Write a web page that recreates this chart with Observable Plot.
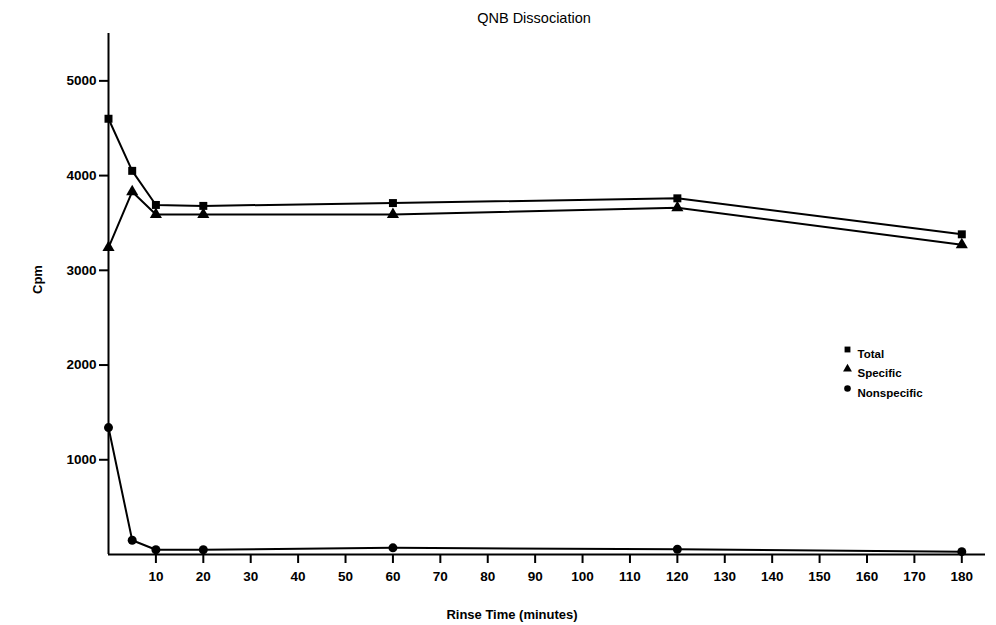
<!DOCTYPE html>
<html>
<head>
<meta charset="utf-8">
<script src="https://cdn.jsdelivr.net/npm/d3@7"></script>
<script src="https://cdn.jsdelivr.net/npm/@observablehq/plot@0.6"></script>
<style>
  html, body { margin: 0; padding: 0; background: #fff; }
  svg { font-family: "Liberation Sans", Arial, sans-serif; }
</style>
</head>
<body>
<div id="chart"></div>
<script>
const rinseTime = [0, 5, 10, 20, 60, 120, 180];
const totalCpm = [4600, 4050, 3690, 3680, 3710, 3760, 3380];
const specificCpm = [3240, 3830, 3590, 3590, 3590, 3660, 3270];
const nonspecificCpm = [1340, 150, 50, 50, 70, 55, 30];
const seriesNames = ["Total", "Specific", "Nonspecific"];
const seriesSymbols = ["square", "triangle", "circle"];
const xTicks = [10, 20, 30, 40, 50, 60, 70, 80, 90, 100, 110, 120, 130, 140, 150, 160, 170, 180];
const yTicks = [1000, 2000, 3000, 4000, 5000];

const seriesValues = [totalCpm, specificCpm, nonspecificCpm];
const data = [];
seriesNames.forEach((s, i) => {
  rinseTime.forEach((t, j) => data.push({series: s, symbol: seriesSymbols[i], time: t, cpm: seriesValues[i][j]}));
});

const legendMarks = seriesNames.flatMap((s, i) => [
  Plot.dot([s], {frameAnchor: "top-left", dx: 739, dy: 316 + i * 19.5, symbol: () => seriesSymbols[i], fill: "#000", r: 3.3}),
  Plot.text([s], {frameAnchor: "top-left", dx: 749, dy: 316 + i * 19.5, text: d => d, textAnchor: "start", fontSize: 11.5, fontWeight: "bold", letterSpacing: "0.5px", fill: "#000"})
]);

const chart = Plot.plot({
  width: 996,
  height: 625,
  marginLeft: 108,
  marginRight: 11,
  marginTop: 33,
  marginBottom: 71,
  style: {fontFamily: "'Liberation Sans', Arial, sans-serif", fontSize: "13px", fontWeight: "bold", color: "#000", background: "#fff"},
  x: {domain: [0, 185], axis: null},
  y: {domain: [0, 5500], axis: null},
  symbol: {domain: seriesSymbols, range: ["square", "triangle", "circle"]},
  marks: [
    Plot.axisX(xTicks, {tickSize: 9, tickPadding: 8, strokeWidth: 2, fontSize: 13.5, fontWeight: "bold", tickFormat: "d", label: null}),
    Plot.axisY(yTicks, {tickSize: 9, tickPadding: 3, strokeWidth: 2, fontSize: 13.5, fontWeight: "bold", tickFormat: "d", label: null}),
    Plot.ruleX([0], {strokeWidth: 2}),
    Plot.ruleY([0], {strokeWidth: 2}),
    Plot.line(data, {x: "time", y: "cpm", z: "series", stroke: "#000", strokeWidth: 2}),
    Plot.dot(data, {x: "time", y: "cpm", symbol: "symbol", fill: "#000", stroke: "none", r: 4.5}),
    ...legendMarks,
    Plot.text(["QNB Dissociation"], {frameAnchor: "top", dx: -13, dy: -21, fontSize: 14.5, fontWeight: "normal", fill: "#000"}),
    Plot.text(["Cpm"], {frameAnchor: "left", dx: -71, dy: 0, rotate: -90, fontSize: 13, fill: "#000"}),
    Plot.text(["Rinse Time (minutes)"], {frameAnchor: "bottom", dx: -35, dy: 64, fontSize: 13, fill: "#000"})
  ]
});
document.getElementById("chart").appendChild(chart);
</script>
</body>
</html>
